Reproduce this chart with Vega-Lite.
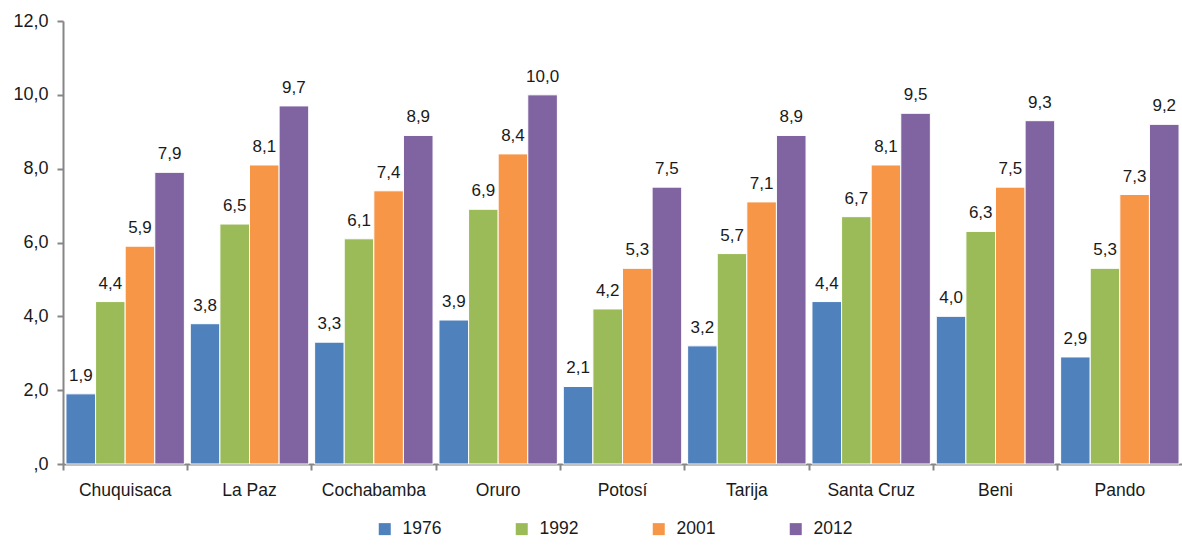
{
  "$schema": "https://vega.github.io/schema/vega-lite/v6.json",
  "width": 1119,
  "height": 443,
  "autosize": "none",
  "padding": {"left": 63, "top": 21, "right": 0, "bottom": 81},
  "background": "white",
  "config": {
    "locale": {"number": {"decimal": ",", "thousands": ".", "grouping": [3], "currency": ["", ""]}},
    "view": {"stroke": null},
    "font": "Liberation Sans",
    "text": {"font": "Liberation Sans"}
  },
  "data": {
    "values": [
      {"dep": "Chuquisaca", "year": "1976", "v": 1.9},
      {"dep": "Chuquisaca", "year": "1992", "v": 4.4},
      {"dep": "Chuquisaca", "year": "2001", "v": 5.9},
      {"dep": "Chuquisaca", "year": "2012", "v": 7.9},
      {"dep": "La Paz", "year": "1976", "v": 3.8},
      {"dep": "La Paz", "year": "1992", "v": 6.5},
      {"dep": "La Paz", "year": "2001", "v": 8.1},
      {"dep": "La Paz", "year": "2012", "v": 9.7},
      {"dep": "Cochabamba", "year": "1976", "v": 3.3},
      {"dep": "Cochabamba", "year": "1992", "v": 6.1},
      {"dep": "Cochabamba", "year": "2001", "v": 7.4},
      {"dep": "Cochabamba", "year": "2012", "v": 8.9},
      {"dep": "Oruro", "year": "1976", "v": 3.9},
      {"dep": "Oruro", "year": "1992", "v": 6.9},
      {"dep": "Oruro", "year": "2001", "v": 8.4},
      {"dep": "Oruro", "year": "2012", "v": 10.0},
      {"dep": "Potosí", "year": "1976", "v": 2.1},
      {"dep": "Potosí", "year": "1992", "v": 4.2},
      {"dep": "Potosí", "year": "2001", "v": 5.3},
      {"dep": "Potosí", "year": "2012", "v": 7.5},
      {"dep": "Tarija", "year": "1976", "v": 3.2},
      {"dep": "Tarija", "year": "1992", "v": 5.7},
      {"dep": "Tarija", "year": "2001", "v": 7.1},
      {"dep": "Tarija", "year": "2012", "v": 8.9},
      {"dep": "Santa Cruz", "year": "1976", "v": 4.4},
      {"dep": "Santa Cruz", "year": "1992", "v": 6.7},
      {"dep": "Santa Cruz", "year": "2001", "v": 8.1},
      {"dep": "Santa Cruz", "year": "2012", "v": 9.5},
      {"dep": "Beni", "year": "1976", "v": 4.0},
      {"dep": "Beni", "year": "1992", "v": 6.3},
      {"dep": "Beni", "year": "2001", "v": 7.5},
      {"dep": "Beni", "year": "2012", "v": 9.3},
      {"dep": "Pando", "year": "1976", "v": 2.9},
      {"dep": "Pando", "year": "1992", "v": 5.3},
      {"dep": "Pando", "year": "2001", "v": 7.3},
      {"dep": "Pando", "year": "2012", "v": 9.2}
    ]
  },
  "encoding": {
    "x": {
      "field": "dep", "type": "nominal", "sort": null,
      "scale": {"paddingInner": 0, "paddingOuter": 0},
      "axis": {
        "title": null, "labelAngle": 0, "bandPosition": 0,
        "domainColor": "#868686", "domainWidth": 2, "tickColor": "#868686", "tickWidth": 2, "tickSize": 6,
        "labelFontSize": 17.5, "labelColor": "#1a1a1a", "labelPadding": 11, "labelFont": "Liberation Sans"
      }
    },
    "xOffset": {"field": "year", "type": "nominal", "scale": {"paddingInner": 0, "paddingOuter": 0.1}},
    "y": {
      "field": "v", "type": "quantitative",
      "scale": {"domain": [0, 12], "nice": false},
      "axis": {
        "title": null, "values": [0, 2, 4, 6, 8, 10, 12], "format": ".1f",
        "labelExpr": "datum.value == 0 ? ',0' : datum.label",
        "grid": false, "domainColor": "#868686", "domainWidth": 2, "tickColor": "#868686", "tickWidth": 2, "tickSize": 6,
        "labelFontSize": 18, "labelColor": "#1a1a1a", "labelPadding": 9, "labelFont": "Liberation Sans"
      }
    }
  },
  "layer": [
    {
      "mark": {"type": "bar", "stroke": "white", "strokeWidth": 1},
      "encoding": {
        "color": {
          "field": "year", "type": "nominal",
          "scale": {"domain": ["1976", "1992", "2001", "2012"], "range": ["#4F81BD", "#9BBB59", "#F79646", "#8064A2"]},
          "legend": {
            "title": null, "orient": "none", "direction": "horizontal", "columns": 4,
            "legendX": 313, "legendY": 499,
            "symbolType": "square", "symbolSize": 144, "symbolStrokeWidth": 0,
            "labelFontSize": 17.5, "labelColor": "#1a1a1a", "labelFont": "Liberation Sans",
            "labelOffset": 9, "columnPadding": 71
          }
        }
      }
    },
    {
      "mark": {"type": "text", "baseline": "bottom", "dy": -9, "fontSize": 17, "color": "#1a1a1a"},
      "encoding": {
        "text": {"field": "v", "type": "quantitative", "format": ".1f"}
      }
    }
  ]
}
